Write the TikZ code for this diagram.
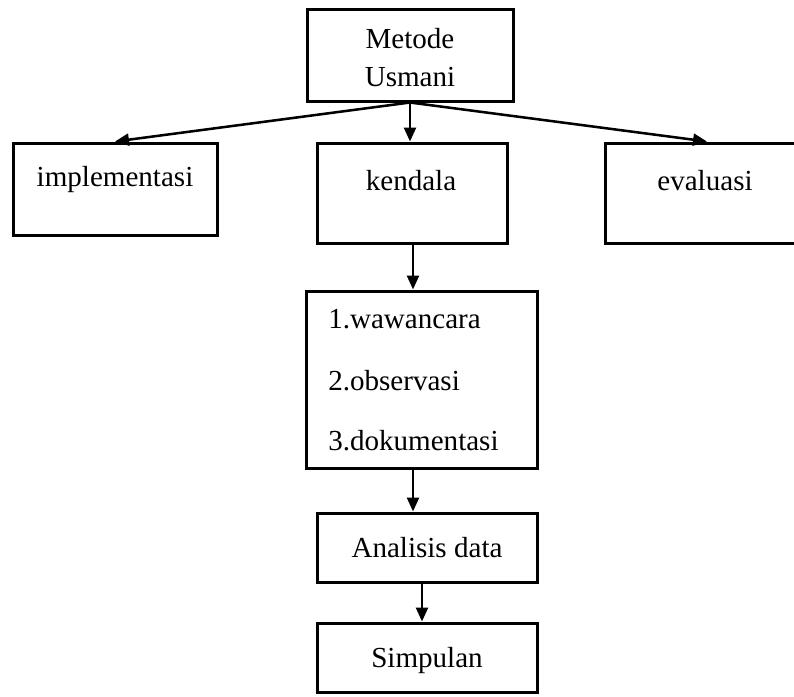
\documentclass[tikz,border=0pt]{standalone}
\usepackage{fontspec}
\setmainfont{Liberation Serif}
\usetikzlibrary{arrows.meta}
\begin{document}
\begin{tikzpicture}[x=0.75pt,y=-0.75pt,
  box/.style={draw=black, line width=2.25pt, inner sep=0pt},
  lbl/.style={inner sep=0pt, font=\fontsize{21.8}{28}\selectfont, anchor=base},
  lbll/.style={inner sep=0pt, font=\fontsize{21.8}{28}\selectfont, anchor=base west},
  arr/.style={line width=1.9pt, -{Triangle[length=10.5pt,width=9pt]}}]
\useasboundingbox (0,0) rectangle (794,697);
% boxes
\node[box, minimum width=154.5pt, minimum height=69pt] (metode) at (410,55) {};
\node[box, minimum width=153pt, minimum height=69pt] (impl) at (115,189) {};
\node[box, minimum width=142.5pt, minimum height=75pt] (kendala) at (412,193) {};
\node[box, minimum width=146.25pt, minimum height=75pt] (eval) at (702.5,193) {};
\node[box, minimum width=173.25pt, minimum height=132.75pt] (list) at (421.5,379.5) {};
\node[box, minimum width=165pt, minimum height=51.75pt] (anal) at (427,547.5) {};
\node[box, minimum width=165pt, minimum height=51.75pt] (simp) at (427,657.5) {};
% texts
\node[lbl] (t1) at (410,48) {Metode};
\node[lbl] (t2) at (410,86) {Usmani};
\node[lbl] (t3) at (115,186) {implementasi};
\node[lbl] (t4) at (411,190) {kendala};
\node[lbl] (t5) at (705,190) {evaluasi};
\node[lbll] (t6) at (328,328) {1.wawancara};
\node[lbll] (t7) at (328,390) {2.observasi};
\node[lbll] (t8) at (328,450) {3.dokumentasi};
\node[lbl] (t9) at (427,557) {Analisis data};
\node[lbl] (t10) at (427,667) {Simpulan};
% connector points
\coordinate (evtop) at (707,143);
\coordinate (lsbot) at (413,513.5);
% arrows
\draw[arr] (metode.south) -- (kendala.north -| metode.south);
\draw[arr] (metode.south) -- (impl.north);
\draw[arr] (metode.south) -- (eval.north -| evtop);
\draw[arr] (kendala.south -| lsbot) -- (list.north -| lsbot);
\draw[arr] (list.south -| lsbot) -- (anal.north -| lsbot);
\draw[arr] (anal.south -| simp.north) ++(-5,0) coordinate (asb) (asb) -- (asb |- simp.north);
\end{tikzpicture}
\end{document}
